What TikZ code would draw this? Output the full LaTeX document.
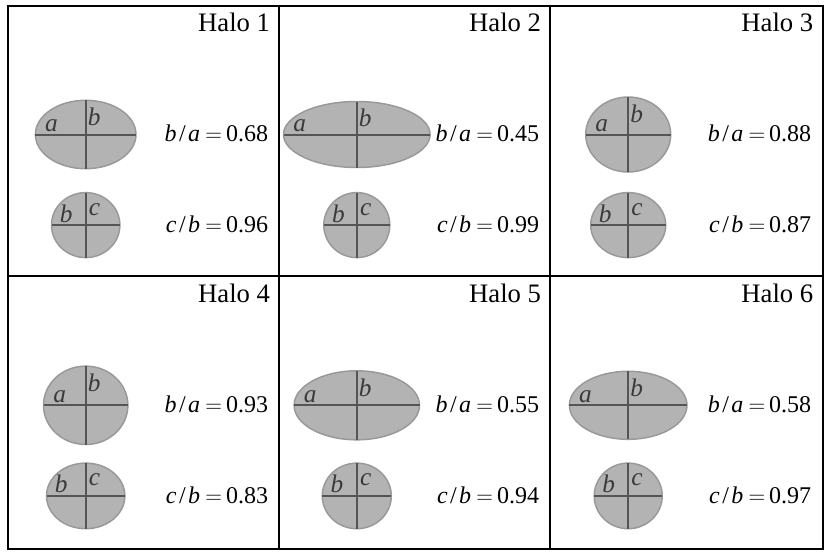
\documentclass[tikz,border=0pt]{standalone}
\usepackage{fontspec}
\setmainfont{Liberation Serif}
\definecolor{ellfill}{HTML}{B3B3B3}
\definecolor{ellline}{HTML}{999999}
\definecolor{axisline}{HTML}{555555}
\definecolor{lbl}{HTML}{3A3A3A}
\tikzset{
  frame/.style={line width=1.5pt, black},
  halobody/.style={fill=ellfill, draw=ellline, line width=1.1pt},
  haloaxis/.style={draw=axisline, line width=1.5pt},
  axislbl/.style={inner sep=0pt, text=lbl, font=\fontsize{19}{19}\selectfont\itshape},
  ratiolbl/.style={inner sep=0pt, anchor=base east, font=\fontsize{18}{18}\selectfont},
  titlelbl/.style={inner sep=0pt, anchor=base east, font=\fontsize{20}{20}\selectfont},
}
\newcommand\HaloEq{\kern4pt$=$\kern3pt}
\newcommand\HaloPanel[9]{%
  % #1 id, #2 cx, #3 top, #4 right, #5 A, #6 B, #7 C, #8 b/a, #9 c/b
  \pgfmathsetmacro\hcx{#2}%
  \pgfmathsetmacro\hcyL{#3+129}%
  \pgfmathsetmacro\hcyS{#3+219.6}%
  \coordinate (L#1) at (\hcx,\hcyL);
  \coordinate (S#1) at (\hcx,\hcyS);
  \draw[halobody] (L#1) ellipse [x radius={#5*0.75pt}, y radius={#6*0.75pt}];
  \draw[halobody] (S#1) ellipse [x radius={#6*0.75pt}, y radius={#7*0.75pt}];
  \draw[haloaxis] ([xshift={-#5*0.75pt}]L#1) -- ([xshift={#5*0.75pt}]L#1);
  \draw[haloaxis] ([yshift={#6*0.75pt}]L#1) -- ([yshift={-#6*0.75pt}]L#1);
  \draw[haloaxis] ([xshift={-#6*0.75pt}]S#1) -- ([xshift={#6*0.75pt}]S#1);
  \draw[haloaxis] ([yshift={#7*0.75pt}]S#1) -- ([yshift={-#7*0.75pt}]S#1);
  \node[axislbl, anchor=base west] (la#1) at ([xshift={(#5-9.5)*-0.75pt}, yshift=2.2pt]L#1) {a};
  \node[axislbl, anchor=north west] (lb#1) at ([xshift=1.4pt, yshift={(#6-7.5)*0.75pt}]L#1) {b};
  \node[axislbl, anchor=base west] (sb#1) at ([xshift={(#6-8)*-0.75pt}, yshift=2.2pt]S#1) {b};
  \node[axislbl, anchor=north west] (sc#1) at ([xshift=2.2pt, yshift={(#7-10.5)*0.75pt}]S#1) {c};
  \node[ratiolbl] (rba#1) at (#4-11,\hcyL+7.4) {\textit{b}\kern1.8pt/\kern1.8pt\textit{a}\HaloEq#8};
  \node[ratiolbl] (rcb#1) at (#4-11,\hcyS+7.4) {\textit{c}\kern1.8pt/\kern1.8pt\textit{b}\HaloEq#9};
  \node[titlelbl] (t#1) at (#4-9,#3+26) {Halo #1};
}
\begin{document}
\begin{tikzpicture}[x=0.75pt,y=-0.75pt]
\useasboundingbox (0,0) rectangle (830,554);
\fill[white] (0,0) rectangle (830,554);
\HaloPanel{1}{85.7}{5.5}{279.3}{50.3}{34.2}{32.5}{0.68}{0.96}
\HaloPanel{2}{356.8}{5.5}{550.3}{73.3}{33}{32.5}{0.45}{0.99}
\HaloPanel{3}{628.2}{5.5}{822.5}{42.5}{37.5}{32.5}{0.88}{0.87}
\HaloPanel{4}{85.7}{276.3}{279.3}{42.2}{39.2}{32.8}{0.93}{0.83}
\HaloPanel{5}{356.8}{276.3}{550.3}{62.7}{34.5}{32.8}{0.55}{0.94}
\HaloPanel{6}{628.2}{276.3}{822.5}{58.8}{34}{32.8}{0.58}{0.97}
\draw[frame] (7.5,5.5) rectangle (822.5,549);
\draw[frame] (279.3,5.5) -- (279.3,549);
\draw[frame] (550.3,5.5) -- (550.3,549);
\draw[frame] (7.5,276.3) -- (822.5,276.3);
\end{tikzpicture}
\end{document}
